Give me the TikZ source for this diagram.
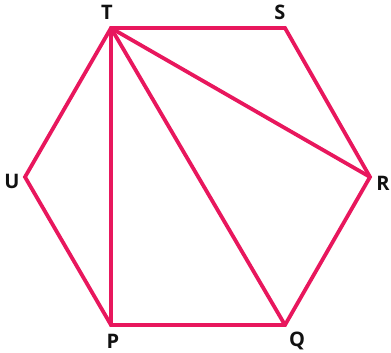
\documentclass[tikz,border=0pt]{standalone}
\usepackage{fontspec}
\setmainfont{Open Sans}
\definecolor{hexred}{HTML}{E8175D}
\definecolor{lab}{HTML}{111111}
\begin{document}
\begin{tikzpicture}[x=1pt,y=-1pt,
  edge/.style={draw=hexred,line width=3.8pt,line join=miter,line cap=round},
  lbl/.style={text=lab,font=\fontsize{20}{24}\selectfont\bfseries,inner sep=0pt}]
\useasboundingbox (0,0) rectangle (391,353);
\coordinate (T) at (111,28);
\coordinate (S) at (285,28);
\coordinate (R) at (370,177);
\coordinate (Q) at (285,325);
\coordinate (P) at (111,325);
\coordinate (U) at (25,177);
\draw[edge] (T) -- (S) -- (R) -- (Q) -- (P) -- (U) -- cycle;
\draw[edge] (T) -- (P);
\draw[edge] (T) -- (Q);
\draw[edge] (T) -- (R);
\node[lbl] (lT) at (107,12) {T};
\node[lbl] (lS) at (280,12) {S};
\node[lbl] (lR) at (383,183) {R};
\node[lbl] (lQ) at (297,341) {Q};
\node[lbl] (lP) at (113,341) {P};
\node[lbl] (lU) at (12,181) {U};
\end{tikzpicture}
\end{document}
